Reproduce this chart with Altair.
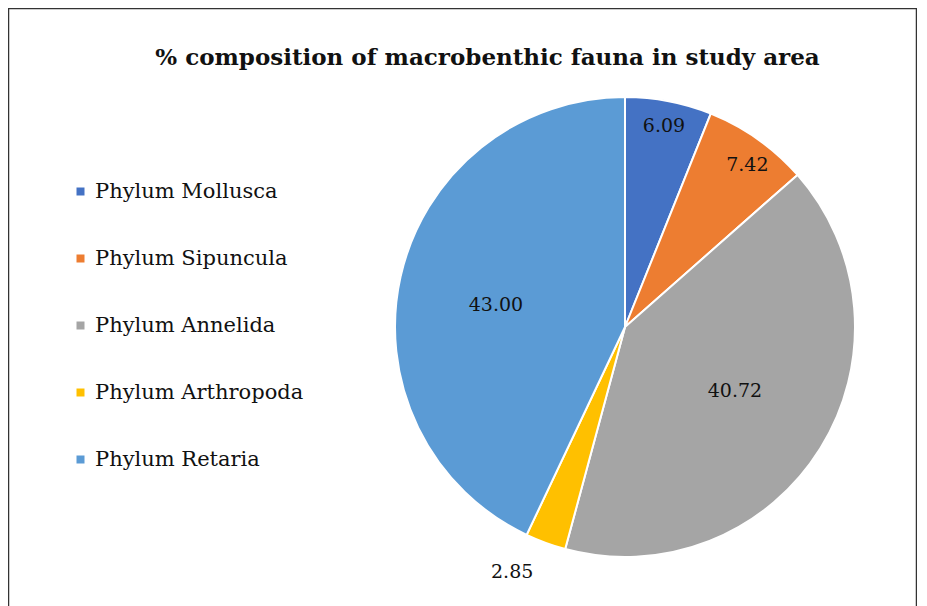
import altair as alt
import pandas as pd

categories = ["Phylum Mollusca", "Phylum Sipuncula", "Phylum Annelida", "Phylum Arthropoda", "Phylum Retaria"]
values = [6.09, 7.42, 40.72, 2.85, 43.00]
labels = ["6.09", "7.42", "40.72", "2.85", "43.00"]
colors = ["#4472C4", "#ED7D31", "#A5A5A5", "#FFC000", "#5B9BD5"]

df = pd.DataFrame({"cat": categories, "val": values, "lab": labels, "idx": list(range(len(categories)))})

CX, CY, R = 617, 319, 230
FONT = "DejaVu Serif"

pie = alt.Chart(df).mark_arc(radius=R, stroke="white", strokeWidth=2).encode(
    theta=alt.Theta("val:Q", stack=True),
    order=alt.Order("idx:Q"),
    x=alt.value(CX), y=alt.value(CY),
    color=alt.Color("cat:N", sort=categories,
                    scale=alt.Scale(domain=categories, range=colors),
                    legend=alt.Legend(title=None, orient="none", legendX=62, legendY=173,
                                      symbolType="square", symbolSize=64, symbolStrokeWidth=0,
                                      labelFont=FONT, labelFontSize=21, labelColor="#111",
                                      rowPadding=45, labelOffset=4, labelLimit=400)),
)

# label placement (Excel "best fit" style): radius and small angular nudge per slice
lab_r = ("datum.idx == 0 ? 205 : datum.idx == 1 ? 203 : datum.idx == 2 ? 127 : "
         "datum.idx == 3 ? 270 : 131")
lab_nudge = ("datum.idx == 0 ? 0 : datum.idx == 1 ? 1.8 : datum.idx == 2 ? -1.8 : "
             "datum.idx == 3 ? 4.5 : -2.8")

text = alt.Chart(df).transform_window(
    cum="sum(val)", sort=[alt.SortField("idx")], frame=[None, 0]
).transform_joinaggregate(
    tot="sum(val)"
).transform_calculate(
    lr=lab_r,
    ang=f"2*PI*(datum.cum - datum.val/2)/datum.tot + ({lab_nudge})*PI/180",
).transform_calculate(
    px=f"{CX} + datum.lr*sin(datum.ang)",
    py=f"{CY} - datum.lr*cos(datum.ang)",
).mark_text(font=FONT, fontSize=19, color="#111").encode(
    x=alt.X("px:Q", scale=None),
    y=alt.Y("py:Q", scale=None),
    text="lab:N",
)

chart = alt.layer(pie, text).properties(
    width=909, height=600,
    title=alt.TitleParams("% composition of macrobenthic fauna in study area",
                          font=FONT, fontSize=23, fontWeight="bold", color="#111",
                          anchor="middle", offset=-62, dx=25),
    padding=0,
    autosize=alt.AutoSizeParams(type="none"),
).configure(background="white").configure_view(stroke="#333", strokeWidth=2.5)

chart.save("out.html", embed_options={"renderer": "svg", "actions": False})
